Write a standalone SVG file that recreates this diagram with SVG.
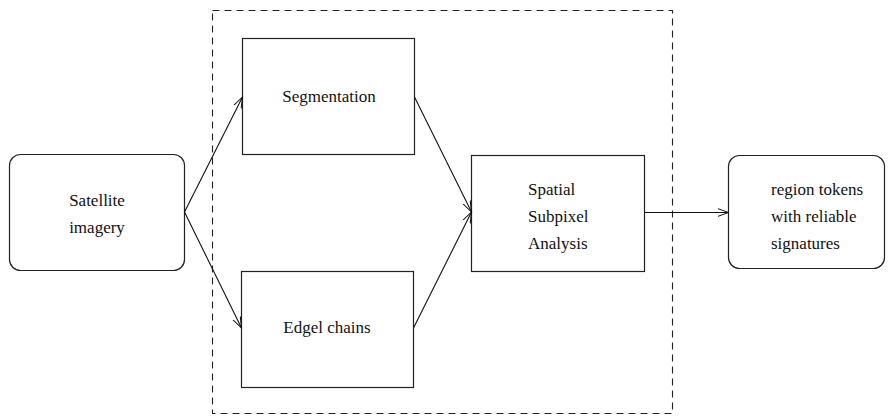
<svg xmlns="http://www.w3.org/2000/svg" width="892" height="418" viewBox="0 0 892 418">
<defs>
<style>
.box{fill:#fff;stroke:#222;stroke-width:1.2}
.lbl{font-family:"Liberation Serif","Times New Roman",serif;font-size:17px;fill:#111}
.mid{text-anchor:middle}
.con{fill:none;stroke:#111;stroke-width:1.1}
.grp{fill:none;stroke:#222;stroke-width:1.1;stroke-dasharray:7,5}
</style>
<marker id="arr" viewBox="0 0 12 10" refX="11" refY="5" markerWidth="12" markerHeight="10" markerUnits="userSpaceOnUse" orient="auto">
<path d="M0,1 L11,5 L0,9" fill="none" stroke="#111" stroke-width="1"/>
</marker>
</defs>
<rect id="group" class="grp" x="212.5" y="10.5" width="460" height="403"/>
<g id="satellite">
<rect class="box" x="9.5" y="154.5" width="175" height="116" rx="11"/>
<text class="lbl mid" x="97" y="206">Satellite</text>
<text class="lbl mid" x="97" y="233">imagery</text>
</g>
<g id="segmentation">
<rect class="box" x="242.5" y="38.5" width="172" height="116"/>
<text class="lbl mid" x="329" y="102">Segmentation</text>
</g>
<g id="edgel">
<rect class="box" x="241.5" y="271.5" width="172" height="116"/>
<text class="lbl mid" x="327" y="333">Edgel chains</text>
</g>
<g id="spatial">
<rect class="box" x="471.5" y="155.5" width="173" height="116"/>
<text class="lbl" x="528" y="195">Spatial</text>
<text class="lbl" x="528" y="222">Subpixel</text>
<text class="lbl" x="528" y="249">Analysis</text>
</g>
<g id="output">
<rect class="box" x="728.5" y="155.5" width="156" height="113" rx="11"/>
<text class="lbl" x="771" y="195">region tokens</text>
<text class="lbl" x="771" y="222">with reliable</text>
<text class="lbl" x="771" y="249">signatures</text>
</g>
<g id="connectors">
<line class="con" x1="184.5" y1="212" x2="242.5" y2="97" marker-end="url(#arr)"/>
<line class="con" x1="184.5" y1="212" x2="241.5" y2="328" marker-end="url(#arr)"/>
<line class="con" x1="414.5" y1="97" x2="471.5" y2="212" marker-end="url(#arr)"/>
<line class="con" x1="413.5" y1="328" x2="471.5" y2="212" marker-end="url(#arr)"/>
<line class="con" x1="644.5" y1="212.5" x2="728.5" y2="212.5" marker-end="url(#arr)"/>
</g>
</svg>
